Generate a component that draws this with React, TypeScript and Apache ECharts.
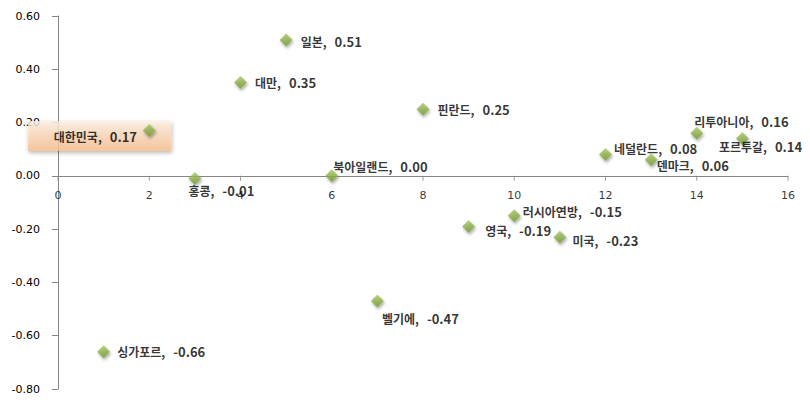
import React, { useEffect, useRef } from "react";
import * as echarts from "echarts";

const countries = ["싱가포르", "대한민국", "홍콩", "대만", "일본", "북아일랜드", "벨기에", "핀란드", "영국", "러시아연방", "미국", "네덜란드", "덴마크", "리투아니아", "포르투갈"];
const xValues = [1, 2, 3, 4, 5, 6, 7, 8, 9, 10, 11, 12, 13, 14, 15];
const yValues = [-0.66, 0.17, -0.01, 0.35, 0.51, 0.0, -0.47, 0.25, -0.19, -0.15, -0.23, 0.08, 0.06, 0.16, 0.14];
const xTicks = [0, 2, 4, 6, 8, 10, 12, 14, 16];
const highlight = "대한민국";

// label nudges (layout only)
const labelOffsets: Record<string, [number, number]> = {
  "싱가포르": [-1, 0],
  "홍콩": [-21, 12],
  "대만": [0, 0],
  "일본": [0, 2],
  "북아일랜드": [-13, -9],
  "벨기에": [-10, 17],
  "핀란드": [0, 0],
  "영국": [2, 4],
  "러시아연방": [-6, -4],
  "미국": [-2, 3],
  "네덜란드": [-6, -6],
  "덴마크": [-9, 6],
  "리투아니아": [-17, -12],
  "포르투갈": [-38, 8],
};

const rich = {
  n: { fontFamily: "'Noto Sans CJK KR', sans-serif", fontSize: 12, fontWeight: "bold", color: "#000", lineHeight: 13 },
  v: { fontFamily: "'Noto Sans CJK KR', sans-serif", fontSize: 13, fontWeight: "bold", color: "#000", lineHeight: 13, padding: [0, 0, 0, 8] },
};

const axisFont = { color: "#000", fontSize: 11, fontFamily: "'DejaVu Sans', Verdana, sans-serif" };

export default function App() {
  const ref = useRef<HTMLDivElement>(null);
  useEffect(() => {
    if (!ref.current) return;
    const chart = echarts.init(ref.current, null, { renderer: "svg" });
    const markerColor = new echarts.graphic.LinearGradient(0, 0, 0, 1, [
      { offset: 0, color: "#a6c760" },
      { offset: 1, color: "#769a35" },
    ]);
    const mainData = countries.map((name, i) => {
      const off = labelOffsets[name] || [0, 0];
      return {
        name,
        value: [xValues[i], yValues[i]],
        label: name === highlight ? { show: false } : { show: true, position: "right", distance: 8, offset: off },
      };
    });
    const hiIdx = countries.indexOf(highlight);
    const hiData = [{ name: highlight, value: [xValues[hiIdx], yValues[hiIdx]] }];
    const fmt = (p: any) => `{n|${p.name},}{v|${Number(p.value[1]).toFixed(2)}}`;
    chart.setOption({
      animation: false,
      backgroundColor: "#fff",
      grid: { left: 58, right: 22, top: 16, bottom: 16, containLabel: false, outerBoundsMode: "none" },
      xAxis: {
        type: "value",
        min: 0,
        max: 16,
        interval: 2,
        axisLine: { show: true, onZero: true, lineStyle: { color: "#868686", width: 1 } },
        axisTick: { show: false },
        axisLabel: { show: false },
        splitLine: { show: false },
      },
      yAxis: {
        type: "value",
        min: -0.8,
        max: 0.6,
        interval: 0.2,
        axisLine: { show: true, onZero: false, lineStyle: { color: "#868686", width: 1 } },
        axisTick: { show: true, length: 6, lineStyle: { color: "#868686" } },
        axisLabel: { margin: 18, ...axisFont, formatter: (v: number) => v.toFixed(2) },
        splitLine: { show: false },
      },
      series: [
        {
          // x-axis ticks and tick labels drawn on the zero line
          type: "scatter",
          z: 1,
          symbol: "rect",
          symbolSize: [1, 5],
          symbolOffset: [0, 2.5],
          silent: true,
          itemStyle: { color: "#868686" },
          label: {
            show: true,
            position: "bottom",
            distance: 9,
            ...axisFont,
            formatter: (p: any) => String(p.value[0]),
          },
          data: xTicks.map((t) => [t, 0]),
        },
        {
          type: "scatter",
          z: 2,
          symbol: "diamond",
          symbolSize: 13,
          silent: true,
          itemStyle: { color: "rgba(0,0,0,0)" },
          label: {
            show: true,
            position: [-115, -3],
            align: "left",
            verticalAlign: "top",
            formatter: fmt,
            rich,
            padding: [9, 34, 8, 26],
            backgroundColor: new echarts.graphic.LinearGradient(0, 0, 0, 1, [
              { offset: 0, color: "#fef0e4" },
              { offset: 1, color: "#fbbf8c" },
            ]),
            shadowColor: "rgba(0,0,0,0.35)",
            shadowBlur: 4,
            shadowOffsetX: 1,
            shadowOffsetY: 2,
          },
          data: hiData,
        },
        {
          type: "scatter",
          z: 3,
          symbol: "diamond",
          symbolSize: 13,
          itemStyle: {
            color: markerColor,
            shadowColor: "rgba(0,0,0,0.4)",
            shadowBlur: 3,
            shadowOffsetX: 1,
            shadowOffsetY: 2,
          },
          label: { formatter: fmt, rich },
          emphasis: { disabled: true },
          data: mainData,
        },
      ],
    });
    return () => chart.dispose();
  }, []);
  return <div ref={ref} style={{ position: "fixed", left: 0, top: 0, width: 810, height: 405 }} />;
}
